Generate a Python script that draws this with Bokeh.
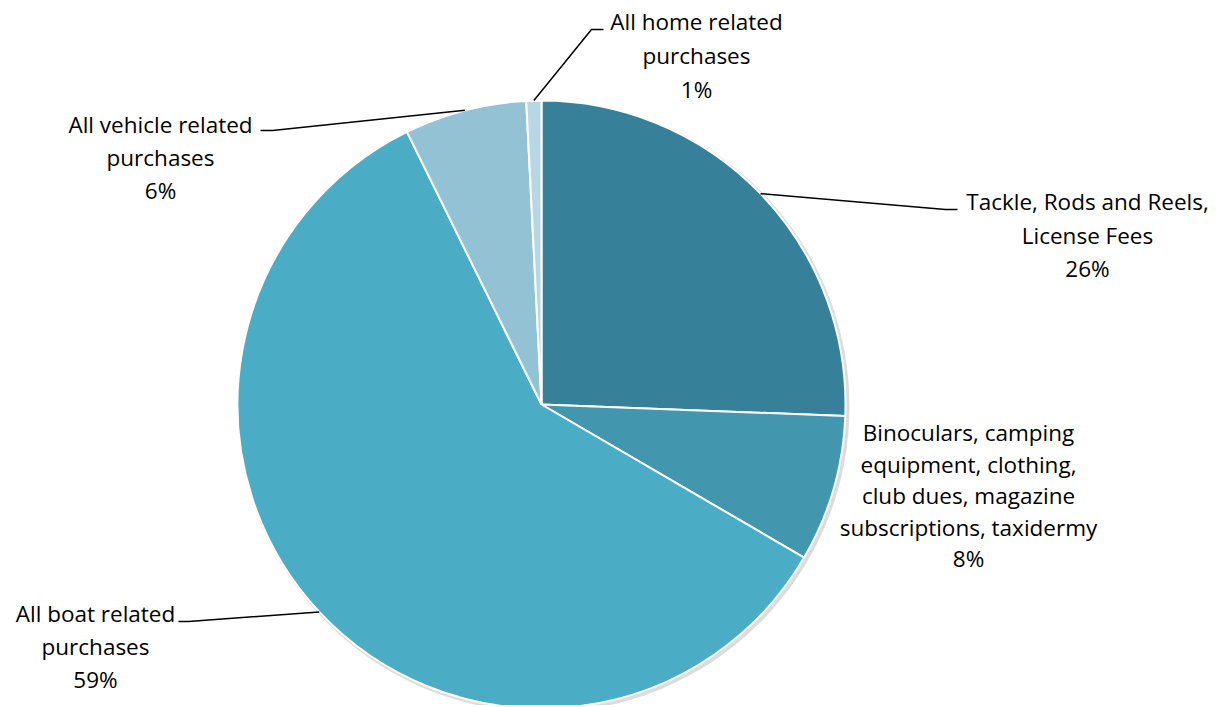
import numpy as np
from bokeh.plotting import figure
from bokeh.models import Range1d, ColumnDataSource
from bokeh.core.properties import value
from bokeh.embed import file_html
from bokeh.resources import INLINE

# ---- data ----
categories = [
    "Tackle, Rods and Reels,\nLicense Fees",
    "Binoculars, camping\nequipment, clothing,\nclub dues, magazine\nsubscriptions, taxidermy",
    "All boat related\npurchases",
    "All vehicle related\npurchases",
    "All home related\npurchases",
]
shares = [25.6, 7.8, 59.3, 6.5, 0.8]
pct_labels = ["26%", "8%", "59%", "6%", "1%"]

# ---- style / layout ----
colors = ["#37809A", "#4297AF", "#4BACC6", "#93C2D4", "#B8D7E4"]
W, H = 1218, 705
CXp, CYp, R = 541, 404, 304          # pie centre (page px) and radius
# label block: centre x and y of first line (page px)
label_pos = [(1087, 201), (968, 432), (95, 613), (160, 124), (696, 21)]
# leader elbows and ends (page px); None = no leader
leaders = [((945, 209), (957, 209)), None, ((188, 621), (178, 621)),
           ((272, 130), (260, 130)), ((591, 29), (603, 29))]
line_gap = [33.5, 31.5, 33, 33, 34]
FONT = "Open Sans"
FS = "22.5px"


def fx(xp):
    return xp


def fy(yp):
    return H - yp


CX, CY = fx(CXp), fy(CYp)

p = figure(width=W, height=H, x_range=Range1d(0, W), y_range=Range1d(0, H),
           output_backend="svg", toolbar_location=None, min_border=0)
p.axis.visible = False
p.grid.visible = False
p.outline_line_color = None
p.background_fill_color = "white"
p.border_fill_color = "white"

total = float(sum(shares))
fr = np.array(shares) / total
cum_end = np.cumsum(fr)
cum_start = cum_end - fr
start_ang = np.pi / 2 - 2 * np.pi * cum_start
end_ang = np.pi / 2 - 2 * np.pi * cum_end
mid_ang = (start_ang + end_ang) / 2

# soft shadow
p.circle(x=[CX + 2], y=[CY - 2], radius=R + 2, fill_color="#9a9a9a",
         fill_alpha=0.35, line_color=None)

src = ColumnDataSource(dict(start=start_ang, end=end_ang, color=colors))
p.wedge(x=CX, y=CY, radius=R, start_angle="start", end_angle="end",
        direction="clock", fill_color="color", line_color="white",
        line_width=2, source=src)

# leader lines
for i, ld in enumerate(leaders):
    if ld is None:
        continue
    ax = CX + R * np.cos(mid_ang[i])
    ay = CY + R * np.sin(mid_ang[i])
    (ex, ey), (tx, ty) = ld
    p.line([ax, fx(ex), fx(tx)], [ay, fy(ey), fy(ty)], line_color="black",
           line_width=1.5)

# labels
xs, ys, txt = [], [], []
for i, cat in enumerate(categories):
    lines = cat.split("\n") + [pct_labels[i]]
    x0, y0 = label_pos[i]
    for k, ln in enumerate(lines):
        xs.append(fx(x0))
        ys.append(fy(y0 + k * line_gap[i]))
        txt.append(ln)
p.text(x=xs, y=ys, text=txt, text_font=value(FONT), text_font_size=FS,
       text_align="center", text_baseline="middle", text_color="black")

open("out.html", "w").write(file_html(p, INLINE))
